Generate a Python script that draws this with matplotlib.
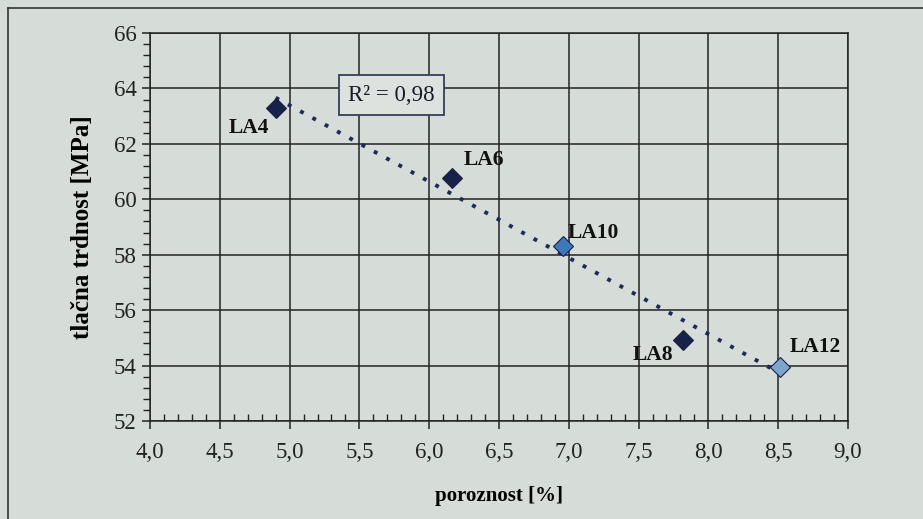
import matplotlib.pyplot as plt
import numpy as np

# podatki odčitani z grafa
oznake = ['LA4', 'LA6', 'LA10', 'LA8', 'LA12']
poroznost = [4.90, 6.16, 6.96, 7.82, 8.51]
trdnost = [63.3, 60.77, 58.3, 54.92, 53.94]
barve = ['#17224a', '#17224a', '#3d78bd', '#17224a', '#7ea4cf']
r2_text = 'R² = 0,98'

x_ticks = [4.0, 4.5, 5.0, 5.5, 6.0, 6.5, 7.0, 7.5, 8.0, 8.5, 9.0]
y_ticks = [52, 54, 56, 58, 60, 62, 64, 66]

# odmiki napisov v pikslih
odmiki = [(-27, -20), (32, 18), (30, 13), (-30, -15), (36, 20)]

bg = '#d6dcd7'
plt.rcParams['font.family'] = ['Liberation Serif', 'DejaVu Serif']

fig = plt.figure(figsize=(9.23, 5.19), dpi=100, facecolor=bg)
ax = fig.add_axes([0.1625, 0.1888, 0.7562, 0.7476])
ax.set_facecolor(bg)

# okvir slike
fig.add_artist(plt.Line2D([0.009, 0.009], [0.0, 0.985], color='#333333', lw=1.2, transform=fig.transFigure))
fig.add_artist(plt.Line2D([0.009, 1.0], [0.985, 0.985], color='#333333', lw=1.2, transform=fig.transFigure))

ax.set_xlim(4.0, 9.0)
ax.set_ylim(52, 66)
ax.set_xticks(x_ticks)
ax.set_xticklabels([f'{v:.1f}'.replace('.', ',') for v in x_ticks])
ax.set_yticks(y_ticks)
ax.set_xticks(np.arange(4.0, 9.001, 0.1), minor=True)
ax.set_yticks(np.arange(52, 66.01, 0.4), minor=True)
ax.grid(True, which='major', color='#222222', lw=1.1)
ax.set_axisbelow(True)

for s in ax.spines.values():
    s.set_color('#222222')
    s.set_linewidth(1.1)

ax.tick_params(axis='both', which='major', labelsize=16.5, colors='#222222', length=6, width=1.1)
ax.tick_params(axis='x', which='major', pad=9)
ax.tick_params(axis='x', which='minor', direction='in', length=5, width=1.0, colors='#222222')
ax.tick_params(axis='y', which='minor', direction='out', length=5, width=1.0, colors='#222222')

# trendna črta
k, n = np.polyfit(poroznost, trdnost, 1)
xl = np.array([min(poroznost), max(poroznost)])
ax.plot(xl, k * xl + n, color='#1c2a5c', lw=2.8, linestyle=(0, (1, 2.6)), zorder=3)

for x, y, c, lab, (dx, dy) in zip(poroznost, trdnost, barve, oznake, odmiki):
    ax.plot(x, y, marker='D', ms=10, color=c, markeredgecolor='#1a2240', markeredgewidth=0.8, zorder=4)
    ax.annotate(lab, (x, y), xytext=(dx, dy), textcoords='offset pixels',
                ha='center', va='center', fontsize=15.5, fontweight='bold', color='#111111')

ax.text(5.73, 63.75, r2_text, fontsize=16.5, ha='center', va='center', color='#1a1a2a', zorder=5,
        bbox=dict(boxstyle='square,pad=0.42', facecolor='#dde2de', edgecolor='#33405e', lw=1.3))

ax.set_xlabel('poroznost [%]', fontsize=15, fontweight='bold', labelpad=17)
ax.set_ylabel('tlačna trdnost [MPa]', fontsize=18, fontweight='bold', labelpad=14)

fig.savefig('out.png', dpi=100, facecolor=bg)
